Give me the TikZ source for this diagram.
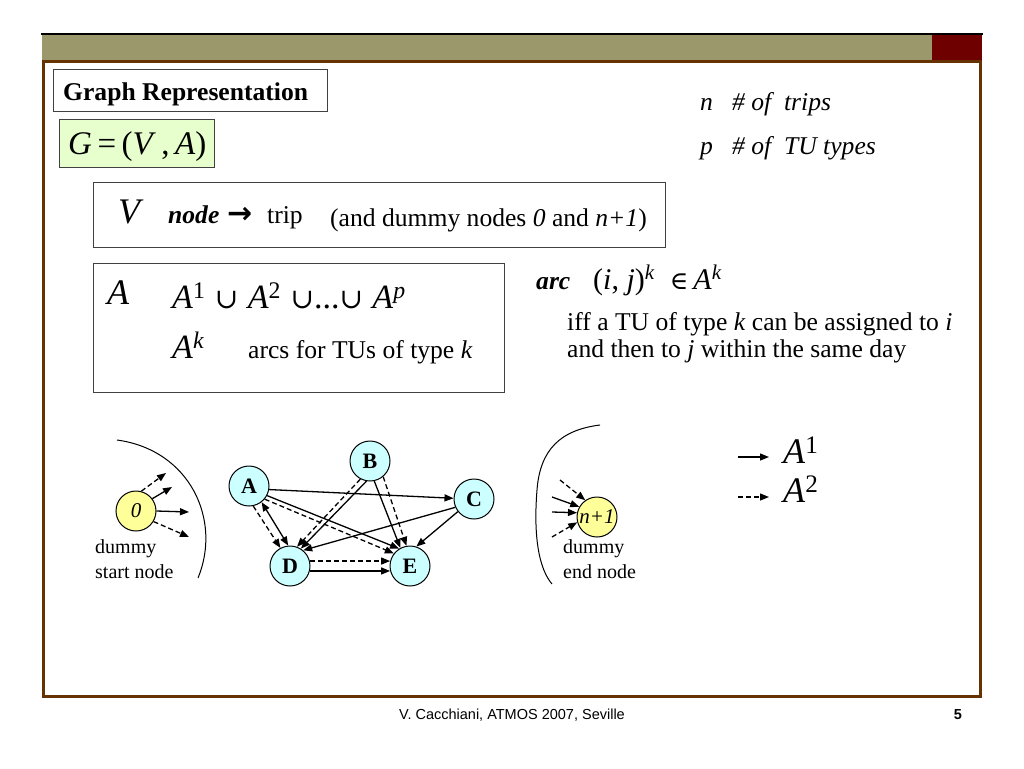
\documentclass[tikz,border=0pt]{standalone}
\usepackage{fontspec}
\setmainfont{Liberation Serif}
\setsansfont{Liberation Sans}
\newfontfamily\symfont{DejaVu Serif}
\newfontfamily\arrfont{DejaVu Sans}
\usetikzlibrary{arrows.meta}
\definecolor{bandolive}{RGB}{155,153,107}
\definecolor{banddark}{RGB}{110,0,0}
\definecolor{framebrown}{RGB}{102,51,0}
\definecolor{gfill}{RGB}{230,255,204}
\definecolor{tripcyan}{RGB}{204,255,255}
\definecolor{dummyyellow}{RGB}{255,255,153}

\begin{document}
\begin{tikzpicture}[x=1pt, y=-1pt, node distance={120pt}, >={Triangle[length=9pt,width=7pt]},
	main/.style={draw, circle, fill=tripcyan, minimum size=40pt, inner sep=0pt, line width=1pt, font=\bfseries\fontsize{22}{22}\selectfont},
	dummy/.style={draw, circle, fill=dummyyellow, minimum size=40pt, inner sep=0pt, line width=1pt, font=\itshape\fontsize{21}{21}\selectfont},
	box/.style={draw=black!75, line width=1.2pt, inner sep=0pt},
	txt/.style={anchor=base west, inner sep=0pt, font=\fontsize{25.6}{27}\selectfont},
	big/.style={anchor=base west, inner sep=0pt, font=\itshape\fontsize{36}{40}\selectfont},
	small/.style={anchor=base west, inner sep=0pt, font=\fontsize{20}{24}\selectfont},
	solidarc/.style={line width=1.3pt},
	dasharc/.style={line width=1.3pt, dash pattern=on 5pt off 3pt}]

		\fill[white] (0,0) rectangle (1024,768);
		\useasboundingbox (0,0) rectangle (1024,768);
		\fill[bandolive] (42,34) rectangle (932,60);
		\fill[banddark] (932,34) rectangle (982,60);
		\draw[line width=1.5pt] (41,34) -- (983,34);
		\draw[framebrown, line width=3pt] (43,61) rectangle (980,696);
		\node[font=\sffamily\fontsize{14.5}{16}\selectfont] (foot) at (512,715) {V. Cacchiani, ATMOS 2007, Seville};
		\node[font=\sffamily\bfseries\fontsize{14.5}{16}\selectfont] (page) at (958,715) {5};

		\node[box, minimum width=274pt, minimum height=42pt, anchor=north west] (titlebox) at (53,69) {};
		\node[txt, font=\bfseries\fontsize{25.6}{30}\selectfont] (title) at (63,100) {Graph Representation};
		\node[box, fill=gfill, minimum width=155pt, minimum height=48pt, anchor=north west] (gbox) at (59,119) {};
		\node[txt, font=\fontsize{33}{40}\selectfont] (graph) at (68,154) {\textit{G}\,=\,(\textit{V}\,,\,\textit{A})};

		\node[txt, font=\itshape\fontsize{25.6}{30}\selectfont] (nsym) at (700,110) {n};
		\node[txt, font=\itshape\fontsize{25.6}{30}\selectfont] (ntext) at (732,110) {\# of\enspace trips};
		\node[txt, font=\itshape\fontsize{25.6}{30}\selectfont] (psym) at (700,154) {p};
		\node[txt, font=\itshape\fontsize{25.6}{30}\selectfont] (ptext) at (732,154) {\# of\enspace TU types};

		\node[box, minimum width=572pt, minimum height=65pt, anchor=north west] (vbox) at (93,182) {};
		\node[big] (vsym) at (118,223) {V};
		\node[txt, font=\bfseries\itshape\fontsize{25.6}{30}\selectfont] (vnode) at (168,223) {node};
		\node[txt, font=\arrfont\bfseries\fontsize{30}{30}\selectfont] (varrow) at (227,223) {→};
		\node[txt] (vtrip) at (267,223) {trip};
		\node[txt] (vdummy) at (330,226) {(and dummy nodes \textit{0} and \textit{n+1})};

		\node[box, minimum width=411pt, minimum height=129pt, anchor=north west] (abox) at (93,263) {};
		\node[big] (asym) at (107,304) {A};
		\node[txt, font=\fontsize{34}{40}\selectfont] (aunion) at (172,308) {\textit{A}\textsuperscript{1}\;{\symfont\fontsize{28}{30}\selectfont ∪}\;\textit{A}\textsuperscript{2}\;{\symfont\fontsize{28}{30}\selectfont ∪}...{\symfont\fontsize{28}{30}\selectfont ∪}\;\textit{A}\textsuperscript{\textit{p}}};
		\node[txt, font=\fontsize{34}{40}\selectfont] (ak) at (172,358) {\textit{A}\textsuperscript{\textit{k}}};
		\node[txt] (atext) at (248,358) {arcs for TUs of type \textit{k}};

		\node[txt, font=\bfseries\itshape\fontsize{25.6}{30}\selectfont] (arclabel) at (536,289) {arc};
		\node[txt, font=\fontsize{30}{32}\selectfont] (arcdef) at (593,289) {(\textit{i}, \textit{j})\textsuperscript{\textit{k}}\enspace{\symfont\fontsize{25}{30}\selectfont ∈}\,\textit{A}\textsuperscript{\textit{k}}};
		\node[txt] (iff) at (567,330) {iff a TU of type \textit{k} can be assigned to \textit{i}};
		\node[txt] (iffnext) at (567,357) {and then to \textit{j} within the same day};

		\draw[line width=1pt] (117,440) .. controls (190,450) and (222,520) .. (198,578);
		\node[dummy] (zero) at (136,511) {0};
		\coordinate (z1) at (166,473);
		\coordinate (z2) at (172,487);
		\coordinate (z3) at (189,512);
		\coordinate (z4) at (189,537);
		\draw[->, dasharc] (zero.75) -- (z1);
		\draw[->, solidarc] (zero.37) -- (z2);
		\draw[->, solidarc] (zero.0) -- (z3);
		\draw[->, dasharc] (zero.-31) -- (z4);
		\node[small] (startlbl) at (95,553) {dummy};
		\node[small] (startlbltwo) at (95,578) {start node};

		\node[main] (A) at (249,486) {A};
		\node[main] (B) at (370,461) {B};
		\node[main] (C) at (474,499) {C};
		\node[main] (D) at (290,566) {D};
		\node[main] (E) [right of=D] {E};

		\draw[->, solidarc] (A.-10) -- (C.178);
		\draw[<->, solidarc] (A.-52) -- (D.95);
		\draw[->, dasharc] (A.-78) -- (D.118);
		\draw[->, solidarc] (A.-28) -- (E.122);
		\draw[->, dasharc] (A.-40) -- (E.142);
		\draw[->, solidarc] (B.-100) -- (D.58);
		\draw[->, dasharc] (B.-118) -- (D.70);
		\draw[->, solidarc] (B.-78) -- (E.118);
		\draw[->, dasharc] (B.-50) -- (E.100);
		\draw[->, solidarc] (C.204) -- (D.50);
		\draw[->, solidarc] (C.218) -- (E.72);
		\draw[->, dasharc] (D.14) -- (E.166);
		\draw[->, solidarc] (D.-14) -- (E.194);

		\draw[line width=1pt] (600,425) .. controls (560,430) and (540,450) .. (537,490) .. controls (533,540) and (540,570) .. (552,584);
		\node[dummy] (last) at (597,517) {n+1};
		\coordinate (e1) at (560,480);
		\coordinate (e2) at (552,497);
		\coordinate (e3) at (552,512);
		\coordinate (e4) at (552,537);
		\draw[->, dasharc] (e1) -- (last.125);
		\draw[->, solidarc] (e2) -- (last.150);
		\draw[->, solidarc] (e3) -- (last.168);
		\draw[->, dasharc] (e4) -- (last.195);
		\node[small] (endlbl) at (563,553) {dummy};
		\node[small] (endlbltwo) at (563,578) {end node};

		\coordinate (l1s) at (738,457);
		\coordinate (l1e) at (769,457);
		\coordinate (l2s) at (738,497);
		\coordinate (l2e) at (769,497);
		\draw[->, solidarc] (l1s) -- (l1e);
		\draw[->, dasharc] (l2s) -- (l2e);
		\node[big, font=\fontsize{36}{40}\selectfont] (legone) at (783,463) {\textit{A}\textsuperscript{1}};
		\node[big, font=\fontsize{36}{40}\selectfont] (legtwo) at (783,502) {\textit{A}\textsuperscript{2}};

	\end{tikzpicture}
\end{document}
